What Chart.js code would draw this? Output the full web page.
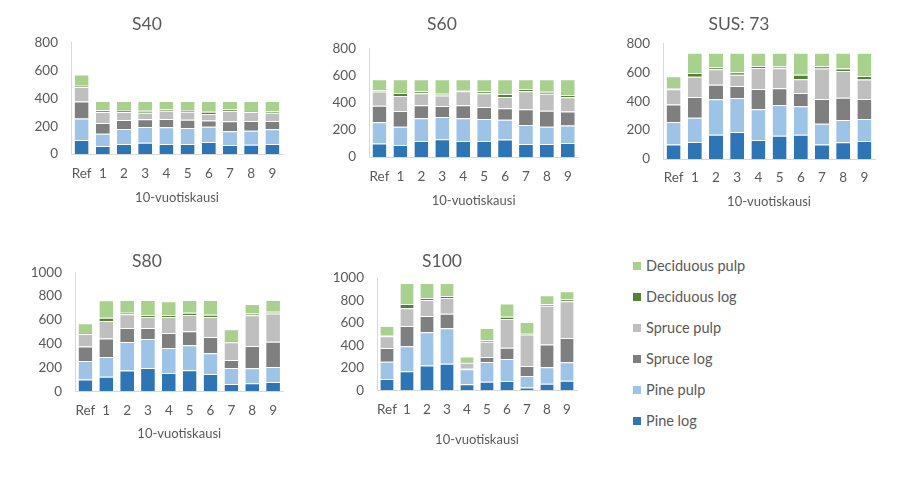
<!DOCTYPE html>
<html>
<head>
<meta charset="utf-8">
<script src="https://cdn.jsdelivr.net/npm/chart.js@4.4.0/dist/chart.umd.min.js"></script>
<style>
html,body{margin:0;padding:0;background:#fff;}
body{width:900px;height:493px;overflow:hidden;position:relative;font-family:Lato,"Open Sans",sans-serif;}
.panel{position:absolute;}
.li{position:absolute;left:633px;height:16px;line-height:16px;font-size:14.5px;color:#595959;white-space:nowrap;}
.li span.sw{position:absolute;left:0;top:4px;width:8px;height:8px;}
.li span.tx{position:absolute;left:13px;top:0;}
</style>
</head>
<body>
<div id="legend"></div>
<script>
// ---- shared data ----
const categories = ['Ref', '1', '2', '3', '4', '5', '6', '7', '8', '9'];
const seriesNames = ['Pine log', 'Pine pulp', 'Spruce log', 'Spruce pulp', 'Deciduous log', 'Deciduous pulp'];
const seriesColors = ['#2E75B6', '#9DC3E6', '#7F7F7F', '#BFBFBF', '#548235', '#A9D18E'];
const yTicks800 = [0, 200, 400, 600, 800];
const yTicks1000 = [0, 200, 400, 600, 800, 1000];
const xAxisTitle = '10-vuotiskausi';

// ---- S40 ----
const s40PineLog     = [100, 57, 72, 81, 72, 72, 86, 65, 67, 72];
const s40PinePulp    = [155, 89, 108, 113, 120, 115, 110, 98, 101, 105];
const s40SpruceLog   = [122, 77, 64, 55, 59, 60, 44, 72, 69, 60];
const s40SprucePulp  = [105, 79, 58, 48, 60, 57, 47, 74, 65, 60];
const s40DecidLog    = [8, 12, 9, 14, 12, 12, 17, 12, 7, 10];
const s40DecidPulp   = [82, 67, 70, 70, 58, 65, 77, 60, 72, 74];

// ---- S60 ----
const s60PineLog     = [100, 88, 118, 130, 118, 118, 128, 96, 96, 103];
const s60PinePulp    = [155, 135, 167, 164, 167, 162, 147, 140, 127, 128];
const s60SpruceLog   = [122, 116, 95, 81, 95, 88, 83, 115, 118, 103];
const s60SprucePulp  = [105, 110, 89, 77, 103, 101, 84, 132, 125, 105];
const s60DecidLog    = [8, 22, 14, 14, 10, 14, 22, 18, 15, 17];
const s60DecidPulp   = [82, 101, 89, 106, 79, 89, 108, 71, 91, 116];

// ---- SUS: 73 ----
const susPineLog     = [100, 118, 168, 187, 131, 161, 168, 101, 115, 124];
const susPinePulp    = [155, 168, 245, 235, 213, 212, 196, 143, 155, 153];
const susSpruceLog   = [122, 143, 101, 83, 140, 116, 92, 171, 154, 138];
const susSprucePulp  = [105, 140, 106, 78, 145, 138, 95, 210, 185, 134];
const susDecidLog    = [8, 26, 14, 16, 14, 12, 32, 16, 16, 25];
const susDecidPulp   = [82, 140, 101, 136, 92, 96, 152, 94, 110, 161];

// ---- S80 ----
const s80PineLog     = [100, 123, 174, 196, 154, 176, 146, 62, 67, 78];
const s80PinePulp    = [155, 166, 241, 244, 210, 211, 173, 134, 126, 126];
const s80SpruceLog   = [122, 154, 117, 92, 126, 117, 138, 67, 188, 213];
const s80SprucePulp  = [105, 148, 115, 93, 135, 137, 168, 149, 258, 236];
const s80DecidLog    = [8, 28, 14, 16, 16, 20, 19, 11, 14, 16];
const s80DecidPulp   = [82, 146, 107, 127, 115, 107, 124, 98, 81, 99];

// ---- S100 ----
const s100PineLog    = [100, 169, 220, 237, 53, 77, 83, 24, 59, 86];
const s100PinePulp   = [155, 223, 296, 315, 134, 175, 196, 104, 146, 163];
const s100SpruceLog  = [122, 181, 146, 130, 12, 45, 101, 89, 202, 217];
const s100SprucePulp = [105, 157, 142, 140, 47, 136, 255, 279, 347, 326];
const s100DecidLog   = [8, 39, 18, 18, 6, 12, 21, 14, 12, 18];
const s100DecidPulp  = [82, 186, 133, 115, 48, 110, 118, 98, 80, 71];

// ---- layout (pixel geometry of each panel) ----
const FONT = 'Lato, "Open Sans", sans-serif';
const TXT = '#595959';
const panels = [
  {title: 'S40', ticks: yTicks800, series: [s40PineLog, s40PinePulp, s40SpruceLog, s40SprucePulp, s40DecidLog, s40DecidPulp],
   axisX: 71, right: 283, titleCx: 147, titleCy: 24.5, plotTop: 42.7, plotBottom: 154, labelCy: 174, axisTitleCy: 197.5},
  {title: 'S60', ticks: yTicks800, series: [s60PineLog, s60PinePulp, s60SpruceLog, s60SprucePulp, s60DecidLog, s60DecidPulp],
   axisX: 369, right: 578.3, titleCx: 442, titleCy: 24, plotTop: 48.3, plotBottom: 157, labelCy: 177, axisTitleCy: 201},
  {title: 'SUS: 73', ticks: yTicks800, series: [susPineLog, susPinePulp, susSpruceLog, susSprucePulp, susDecidLog, susDecidPulp],
   axisX: 663, right: 875, titleCx: 739, titleCy: 24, plotTop: 43.3, plotBottom: 159, labelCy: 177.5, axisTitleCy: 201.7},
  {title: 'S80', ticks: yTicks1000, series: [s80PineLog, s80PinePulp, s80SpruceLog, s80SprucePulp, s80DecidLog, s80DecidPulp],
   axisX: 75, right: 283.5, titleCx: 147, titleCy: 261, plotTop: 272.3, plotBottom: 391.3, labelCy: 410.7, axisTitleCy: 434},
  {title: 'S100', ticks: yTicks1000, series: [s100PineLog, s100PinePulp, s100SpruceLog, s100SprucePulp, s100DecidLog, s100DecidPulp],
   axisX: 377, right: 577, titleCx: 442, titleCy: 261, plotTop: 278, plotBottom: 390.3, labelCy: 410, axisTitleCy: 439.5}
];

const TITLE_FS = 17.5, TICK_FS = 13.5, AXT_FS = 13;

panels.forEach((p, i) => {
  const x0 = 2 * p.titleCx - p.right;         // left edge of title box
  const L = Math.floor(x0);
  const padLeft = x0 - L;
  const Wy = p.axisX - x0;
  const W = Math.ceil(p.right + 6 - L);
  const padRight = L + W - p.right;
  const cTop = Math.floor(p.titleCy - TITLE_FS * 0.6 - 5);
  const tPadTop = p.titleCy - TITLE_FS * 0.6 - cTop;
  const tPadBottom = Math.max(0, p.plotTop - cTop - tPadTop - TITLE_FS * 1.2);
  const Hx = p.axisTitleCy - p.plotBottom + AXT_FS * 0.6;
  const labelPad = p.labelCy - p.plotBottom - TICK_FS * 0.6;
  const H = Math.ceil(p.plotBottom - cTop + Hx + 3);
  const padBottom = H - (p.plotBottom - cTop) - Hx;

  const div = document.createElement('div');
  div.className = 'panel';
  div.style.left = L + 'px';
  div.style.top = cTop + 'px';
  div.style.width = W + 'px';
  div.style.height = H + 'px';
  const cv = document.createElement('canvas');
  div.appendChild(cv);
  document.body.appendChild(div);

  new Chart(cv, {
    type: 'bar',
    data: {
      labels: categories,
      datasets: p.series.map((vals, k) => ({
        label: seriesNames[k],
        data: vals,
        backgroundColor: seriesColors[k],
        borderColor: 'rgba(255,255,255,0.7)',
        borderWidth: {top: 1, bottom: 0, left: 0, right: 0},
        borderSkipped: false,
        barPercentage: 0.66,
        categoryPercentage: 1.0
      }))
    },
    options: {
      responsive: true,
      maintainAspectRatio: false,
      animation: false,
      layout: {padding: {left: padLeft, right: padRight, top: 0, bottom: padBottom}},
      plugins: {
        legend: {display: false},
        tooltip: {enabled: false},
        title: {
          display: true, text: p.title, color: TXT,
          font: {family: FONT, size: TITLE_FS, weight: 'normal', lineHeight: 1.2},
          padding: {top: tPadTop, bottom: tPadBottom}
        }
      },
      scales: {
        x: {
          stacked: true,
          grid: {display: false, drawTicks: false},
          border: {display: true, color: '#D9D9D9', width: 1},
          ticks: {color: TXT, font: {family: FONT, size: TICK_FS, lineHeight: 1.2}, padding: labelPad, maxRotation: 0, autoSkip: false},
          title: {display: true, text: xAxisTitle, color: TXT, font: {family: FONT, size: AXT_FS, lineHeight: 1.2}, padding: {top: 0, bottom: 0}},
          afterFit(s) { s.height = Hx; }
        },
        y: {
          stacked: true,
          min: p.ticks[0],
          max: p.ticks[p.ticks.length - 1],
          grid: {display: false, drawTicks: false},
          border: {display: true, color: '#D9D9D9', width: 1},
          ticks: {stepSize: p.ticks[1] - p.ticks[0], color: TXT, font: {family: FONT, size: TICK_FS}, padding: 13,
                  callback: (v) => String(v)},
          afterFit(s) { s.width = Wy; }
        }
      }
    }
  });
});

// ---- legend (reverse order, as in the reference) ----
const legend = document.getElementById('legend');
const legendTop = 258, legendStep = 31;
for (let k = seriesNames.length - 1, r = 0; k >= 0; k--, r++) {
  const row = document.createElement('div');
  row.className = 'li';
  row.style.top = (legendTop + r * legendStep) + 'px';
  const sw = document.createElement('span');
  sw.className = 'sw';
  sw.style.background = seriesColors[k];
  const tx = document.createElement('span');
  tx.className = 'tx';
  tx.textContent = seriesNames[k];
  row.appendChild(sw); row.appendChild(tx);
  legend.appendChild(row);
}
</script>
</body>
</html>
